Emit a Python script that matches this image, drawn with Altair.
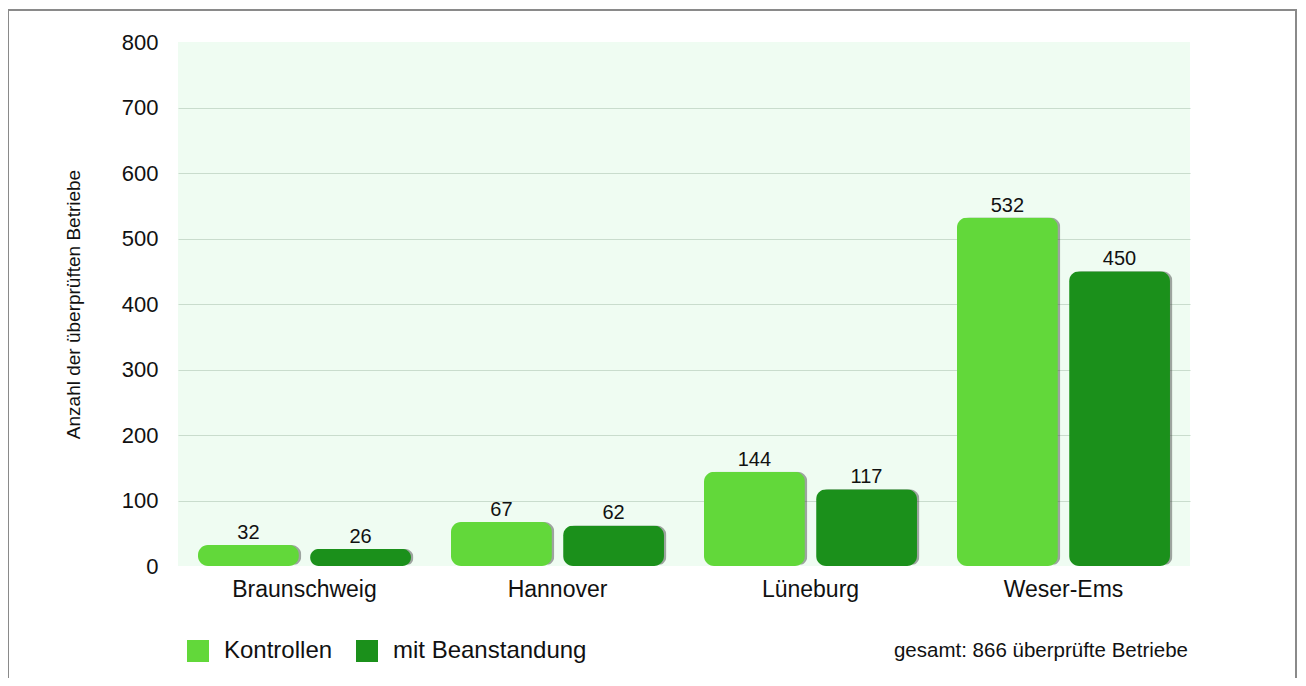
import altair as alt
import pandas as pd

regions = ["Braunschweig", "Hannover", "Lüneburg", "Weser-Ems"]
kontrollen = [32, 67, 144, 532]
beanstandung = [26, 62, 117, 450]
series = ["Kontrollen", "mit Beanstandung"]
colors = ["#62d83a", "#1b901b"]
y_ticks = [0, 100, 200, 300, 400, 500, 600, 700, 800]
note = "gesamt: 866 überprüfte Betriebe"

rows = []
for r, k, b in zip(regions, kontrollen, beanstandung):
    rows.append({"Region": r, "Serie": series[0], "Wert": k})
    rows.append({"Region": r, "Serie": series[1], "Wert": b})
df = pd.DataFrame(rows)

FONT = "Liberation Sans"
BW = 213  # band width of one region group in px

x_enc = alt.X("Region:N", sort=regions,
              scale=alt.Scale(paddingInner=0.158, paddingOuter=0.079),
              axis=alt.Axis(title=None, labelAngle=0, ticks=False, domain=False,
                            labelFontSize=23, labelPadding=12, labelColor="#111",
                            labelFont=FONT))


def xo(shift):
    return alt.XOffset("Serie:N", sort=series,
                       scale=alt.Scale(type="band", paddingInner=0.1, paddingOuter=0,
                                       range=[shift, BW + shift]))


y_enc = alt.Y("Wert:Q",
              scale=alt.Scale(domain=[0, 800], nice=False),
              axis=alt.Axis(values=y_ticks, title="Anzahl der überprüften Betriebe",
                            titleFontSize=19, titleFontWeight="normal", titleFont=FONT,
                            titleColor="#111", titlePadding=38,
                            labelFontSize=22, labelFont=FONT, labelColor="#111",
                            labelPadding=20, ticks=False, domain=False,
                            grid=True, gridColor="#c9dccd", gridWidth=1,
                            gridOpacity={"condition": {"test": "datum.value === 0 || datum.value === 800", "value": 0}, "value": 1}))

base = alt.Chart(df)

shadow = base.mark_bar(cornerRadius=10, color="#3a3a3a", opacity=0.45,
                       yOffset=-1.5).encode(
    x=x_enc, xOffset=xo(2.5), y=y_enc)

bars = base.mark_bar(cornerRadius=10).encode(
    x=x_enc, xOffset=xo(0), y=y_enc,
    color=alt.Color("Serie:N", sort=series,
                    scale=alt.Scale(domain=series, range=colors),
                    legend=alt.Legend(title=None, orient="none", direction="horizontal",
                                      legendX=8, legendY=597,
                                      symbolType="square", symbolSize=484,
                                      symbolStrokeWidth=0, symbolOpacity=1,
                                      labelFontSize=24, labelFont=FONT, labelColor="#111",
                                      labelLimit=400,
                                      labelOffset=14, columnPadding=22)))

labels = base.mark_text(baseline="alphabetic", dy=-6, fontSize=20, font=FONT,
                        color="#111").encode(
    x=x_enc, xOffset=xo(0), y=y_enc, text=alt.Text("Wert:Q"))

note_df = pd.DataFrame({"t": [note]})
note_text = alt.Chart(note_df).mark_text(align="right", baseline="middle", fontSize=20.5,
                                          font=FONT, color="#111").encode(
    x=alt.value(1010), y=alt.value(609), text="t:N")

frame = alt.Chart(note_df).mark_rect(fill=None, stroke="#8a8a8a", strokeWidth=2,
                                     clip=False).encode(
    x=alt.value(-170), x2=alt.value(1118), y=alt.value(-32), y2=alt.value(700))

chart = alt.layer(frame, shadow, bars, labels, note_text).resolve_scale(
    xOffset="independent"
).properties(
    width=1012, height=524,
    autosize=alt.AutoSizeParams(type="none"),
    padding={"left": 170, "top": 34, "right": 108, "bottom": 112},
    background="white",
).configure_view(fill="#effcf2", stroke=None)

chart.save("out.html", embed_options={"renderer": "svg", "actions": False})
